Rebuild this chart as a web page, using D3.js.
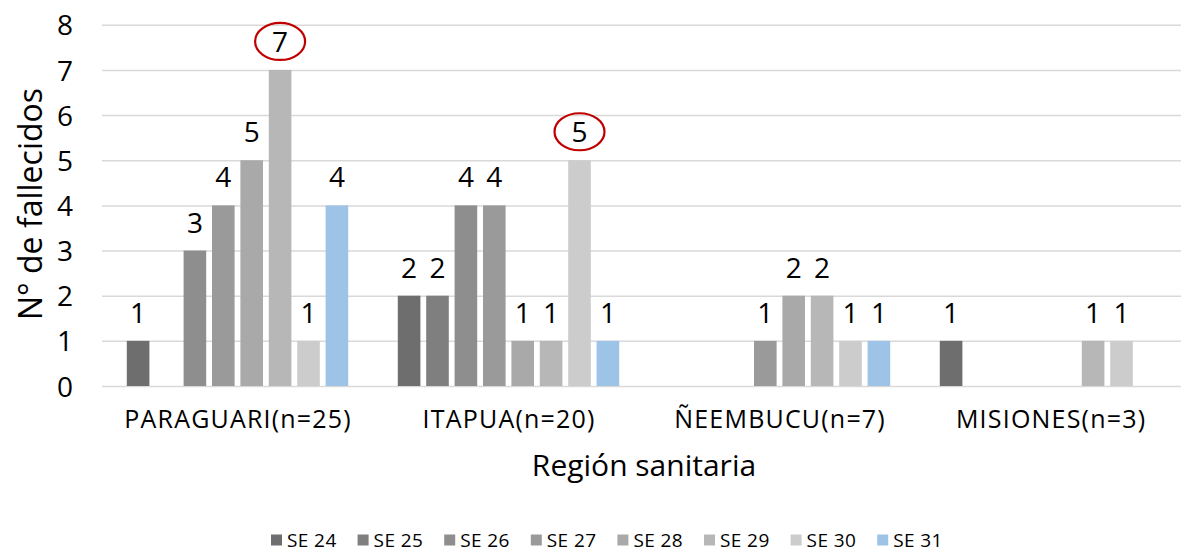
<!DOCTYPE html>
<html>
<head>
<meta charset="utf-8">
<script src="https://cdn.jsdelivr.net/npm/d3@7"></script>
<style>
  html, body { margin: 0; padding: 0; background: #fff; }
  svg { display: block; font-family: "Open Sans", "Noto Sans", sans-serif; }
</style>
</head>
<body>
<svg id="chart" width="1181" height="552"></svg>
<script>
const categories = ["PARAGUARI(n=25)", "ITAPUA(n=20)", "ÑEEMBUCU(n=7)", "MISIONES(n=3)"];
const series = ["SE 24", "SE 25", "SE 26", "SE 27", "SE 28", "SE 29", "SE 30", "SE 31"];
// values per series, one per category; 0 = no bar
const se24 = [1, 2, 0, 1];
const se25 = [0, 2, 0, 0];
const se26 = [3, 4, 0, 0];
const se27 = [4, 4, 1, 0];
const se28 = [5, 1, 2, 0];
const se29 = [7, 1, 2, 1];
const se30 = [1, 5, 1, 1];
const se31 = [4, 1, 1, 0];
const values = [se24, se25, se26, se27, se28, se29, se30, se31];
const yTicks = [0, 1, 2, 3, 4, 5, 6, 7, 8];
const highlighted = [["PARAGUARI(n=25)", "SE 29"], ["ITAPUA(n=20)", "SE 30"]];
const colors = ["#6e6e6e", "#7f7f7f", "#8e8e8e", "#9a9a9a", "#a9a9a9", "#b7b7b7", "#cccccc", "#9dc3e6"];

const svg = d3.select("#chart");
const plot = { left: 102, right: 1186, top: 24, bottom: 386 };

const x0 = d3.scaleBand().domain(categories).range([plot.left, plot.right]).padding(0);
const x1 = d3.scaleBand().domain(series).range([0, x0.bandwidth()])
  .paddingInner(0.204).paddingOuter(0.873);
const y = d3.scaleLinear().domain([0, 8]).range([plot.bottom, plot.top + 0.8]);
const color = d3.scaleOrdinal().domain(series).range(colors);

// gridlines + y tick labels
const yAxis = d3.axisLeft(y).tickValues(yTicks).tickSize(-(plot.right - plot.left)).tickPadding(29);
const gy = svg.append("g").attr("transform", `translate(${plot.left},0)`).call(yAxis);
gy.select(".domain").remove();
gy.selectAll(".tick line").attr("stroke", "#d9d9d9").attr("stroke-width", 1.5);
gy.selectAll(".tick text").attr("font-size", 28).attr("fill", "#000")
  .attr("font-family", "Open Sans").attr("dy", "0.36em");

// data
const flat = [];
series.forEach((s, si) => categories.forEach((c, ci) => {
  const v = values[si][ci];
  if (v > 0) flat.push({ s, c, v });
}));

svg.append("g").selectAll("rect").data(flat).join("rect")
  .attr("x", d => x0(d.c) + x1(d.s))
  .attr("width", x1.bandwidth())
  .attr("y", d => y(d.v))
  .attr("height", d => y(0) - y(d.v))
  .attr("fill", d => color(d.s));

svg.append("g").selectAll("text").data(flat).join("text")
  .attr("x", d => x0(d.c) + x1(d.s) + x1.bandwidth() / 2)
  .attr("y", d => y(d.v) - 18)
  .attr("text-anchor", "middle")
  .attr("font-size", 28)
  .attr("fill", "#000")
  .text(d => d.v);

// highlight ellipses
svg.append("g").selectAll("ellipse").data(highlighted).join("ellipse")
  .attr("cx", d => x0(d[0]) + x1(d[1]) + x1.bandwidth() / 2)
  .attr("cy", d => y(values[series.indexOf(d[1])][categories.indexOf(d[0])]) - 28.5)
  .attr("rx", 25).attr("ry", 18.5)
  .attr("fill", "none").attr("stroke", "#c00000").attr("stroke-width", 2.2);

// x category labels
svg.append("g").selectAll("text").data(categories).join("text")
  .attr("x", d => x0(d) + x0.bandwidth() / 2 + 0.6)
  .attr("y", 428)
  .attr("text-anchor", "middle")
  .attr("font-size", 25)
  .attr("letter-spacing", 1.2)
  .attr("fill", "#000")
  .text(d => d);

// axis titles
svg.append("text")
  .attr("x", (plot.left + plot.right) / 2).attr("y", 476)
  .attr("text-anchor", "middle").attr("font-size", 30).attr("fill", "#000")
  .text("Región sanitaria");

svg.append("text")
  .attr("transform", `translate(42,204) rotate(-90)`)
  .attr("text-anchor", "middle").attr("font-size", 32).attr("fill", "#000")
  .text("N° de fallecidos");

// legend
const legend = svg.append("g").selectAll("g").data(series).join("g")
  .attr("transform", (d, i) => `translate(${271 + i * 86.6},540)`);
legend.append("rect").attr("x", 0).attr("y", -5.5).attr("width", 11).attr("height", 11)
  .attr("fill", d => color(d));
legend.append("text").attr("x", 16).attr("y", 6.5)
  .attr("font-size", 19).attr("letter-spacing", 0.4).attr("fill", "#000").text(d => d);
</script>
</body>
</html>
